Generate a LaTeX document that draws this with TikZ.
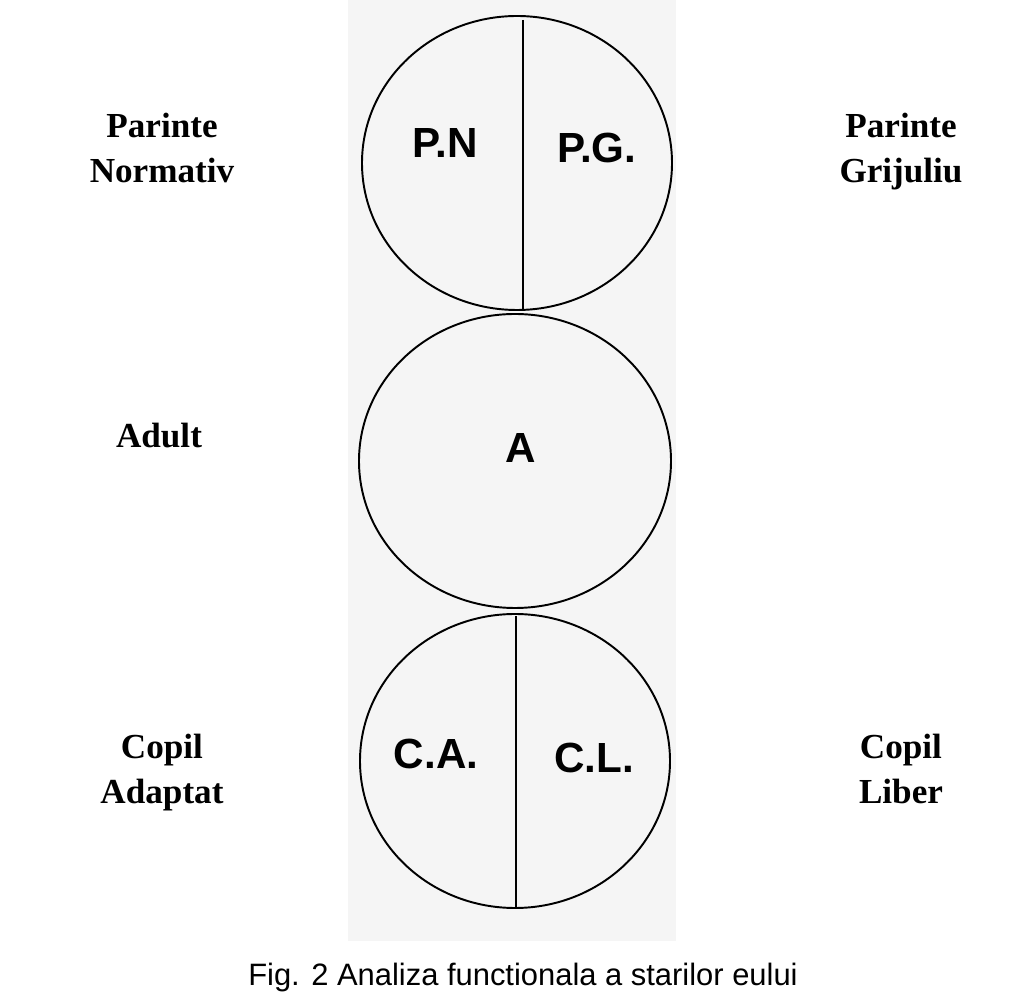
\documentclass[tikz,border=0pt]{standalone}
\usepackage{fontspec}
\setmainfont{Liberation Serif}
\setsansfont{Liberation Sans}
\tikzset{
  state/.style={draw=black, line width=1.1pt},
  stlabel/.style={font=\sffamily\bfseries\fontsize{24}{28}\selectfont},
  sidelabel/.style={font=\bfseries\fontsize{20}{26}\selectfont, align=center, anchor=base, inner sep=0pt}
}
\begin{document}
\begin{tikzpicture}[x=0.02cm, y=-0.02cm]
\useasboundingbox (0,0) rectangle (1019,996);
% Fundal
\fill [white] (0,0) rectangle (1019,996);
\fill [black!4] (348,0) rectangle (676,941);

% Parinte
\draw [state] (517,163) ellipse (155 and 147);
\coordinate (ptop) at (523,20);
\coordinate (pbot) at (523,310);
\draw [line width=1pt] (ptop) -- (pbot);
\node [stlabel] (pn) at (445,143) {P.N};
\node [stlabel] (pg) at (597,148) {P.G.};

% Adult
\draw [state] (515,461) ellipse (156 and 147);
\node [stlabel] (a) at (521,448) {A};

% Copil
\draw [state] (515,761) ellipse (155 and 147);
\coordinate (ctop) at (516,616);
\coordinate (cbot) at (516,908);
\draw [line width=1pt] (ctop) -- (cbot);
\node [stlabel] (ca) at (436,754) {C.A.};
\node [stlabel] (cl) at (594,758) {C.L.};

% Etichete laterale
\node [sidelabel] (pnlab) at (162,183) {Parinte\\Normativ};
\node [sidelabel] (pglab) at (901,183) {Parinte\\Grijuliu};
\node [sidelabel] (alab) at (159,448) {Adult};
\node [sidelabel] (calab) at (162,804) {Copil\\Adaptat};
\node [sidelabel] (cllab) at (901,804) {Copil\\Liber};

% Legenda
\node [font=\sffamily\fontsize{17.6}{20}\selectfont, anchor=base] (fig) at (523,986) {Fig. 2 Analiza functionala a starilor eului};
\end{tikzpicture}
\end{document}
